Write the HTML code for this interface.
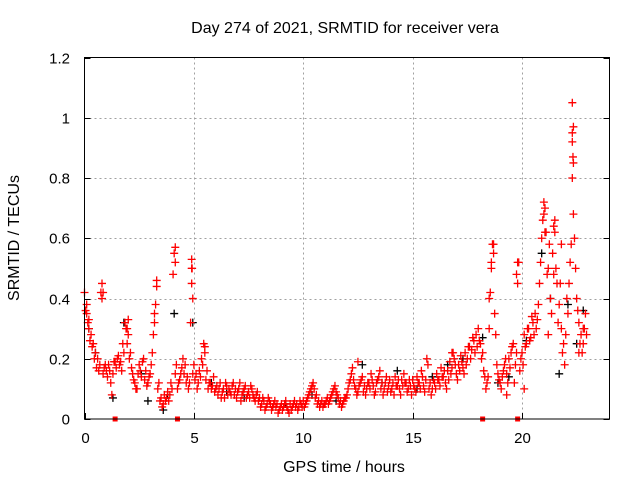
<!DOCTYPE html>
<html><head><meta charset="utf-8"><style>
html,body{margin:0;padding:0;background:#fff;}
svg{display:block;font-family:"Liberation Sans",sans-serif;}
</style></head><body>
<svg id="chart" width="640" height="480" viewBox="0 0 640 480" xmlns="http://www.w3.org/2000/svg">
<rect width="640" height="480" fill="#fff"/>
<text x="345" y="33" font-size="16" text-anchor="middle" fill="#000">Day 274 of 2021, SRMTID for receiver vera</text>
<g id="grid"></g>
<g id="ticks"></g>
<g id="points"></g>
<rect x="84.5" y="57.5" width="525" height="361.5" fill="none" stroke="#000" stroke-width="1"/>
<text x="344" y="472" font-size="16" text-anchor="middle">GPS time / hours</text>
<text transform="translate(19,238) rotate(-90)" font-size="16" text-anchor="middle">SRMTID / TECUs</text>
</svg>
<script>
const xTicks=[0,5,10,15,20];
const yTicks=[0,0.2,0.4,0.6,0.8,1,1.2];
const yTickLabels=["0","0.2","0.4","0.6","0.8","1","1.2"];
const seriesAStart=0, seriesBStart=0.05, seriesStep=0.1;
const seriesA=[0.42,0.35,0.30,0.28,0.25,0.22,0.20,0.18,0.40,0.17,
0.16,0.18,0.12,0.15,0.19,0.20,0.18,0.16,0.22,0.30,
0.28,0.22,0.15,0.12,0.10,0.18,0.14,0.20,0.16,0.12,
0.15,0.22,0.32,0.44,0.12,0.07,0.05,0.06,0.09,0.08,
0.10,0.55,0.18,0.12,0.15,0.20,0.18,0.14,0.12,0.50,
0.18,0.15,0.12,0.14,0.18,0.22,0.16,0.12,0.10,0.14,
0.10,0.08,0.12,0.09,0.07,0.11,0.10,0.08,0.12,0.10,
0.09,0.12,0.08,0.10,0.07,0.09,0.11,0.08,0.06,0.09,
0.07,0.05,0.06,0.04,0.07,0.05,0.04,0.06,0.05,0.03,
0.05,0.04,0.06,0.03,0.05,0.04,0.06,0.05,0.04,0.05,
0.06,0.05,0.07,0.09,0.11,0.10,0.08,0.06,0.05,0.04,
0.05,0.07,0.06,0.08,0.10,0.09,0.07,0.06,0.05,0.07,
0.08,0.12,0.15,0.13,0.10,0.09,0.12,0.14,0.11,0.10,
0.12,0.15,0.11,0.09,0.13,0.16,0.12,0.10,0.14,0.11,
0.09,0.12,0.14,0.11,0.10,0.13,0.15,0.12,0.10,0.11,
0.13,0.10,0.14,0.12,0.16,0.11,0.13,0.18,0.12,0.10,
0.12,0.15,0.13,0.17,0.14,0.12,0.16,0.19,0.17,0.20,
0.15,0.18,0.21,0.17,0.22,0.20,0.24,0.23,0.26,0.28,
0.30,0.25,0.22,0.14,0.12,0.30,0.50,0.55,0.28,0.15,
0.12,0.14,0.18,0.15,0.20,0.22,0.25,0.18,0.45,0.16,
0.22,0.28,0.25,0.30,0.27,0.32,0.35,0.33,0.45,0.60,
0.68,0.62,0.50,0.40,0.55,0.62,0.45,0.38,0.30,0.25,
0.28,0.35,0.52,0.95,0.60,0.40,0.32,0.28,0.25,0.35];
const seriesB=[0.36,0.32,0.26,0.24,0.20,0.17,0.16,0.42,0.15,0.18,
0.14,0.16,0.08,0.19,0.17,0.21,0.19,0.25,0.32,0.25,
0.20,0.17,0.13,0.10,0.15,0.16,0.19,0.13,0.11,0.14,
0.18,0.28,0.38,0.10,0.06,0.04,0.08,0.07,0.06,0.12,
0.48,0.15,0.10,0.13,0.17,0.15,0.12,0.10,0.32,0.15,
0.13,0.10,0.16,0.20,0.25,0.13,0.10,0.12,0.11,0.09,
0.11,0.10,0.07,0.10,0.12,0.08,0.09,0.11,0.08,0.07,
0.10,0.06,0.09,0.11,0.08,0.07,0.10,0.07,0.08,0.06,
0.04,0.07,0.03,0.05,0.06,0.03,0.05,0.04,0.02,0.04,
0.03,0.05,0.04,0.02,0.03,0.05,0.04,0.03,0.06,0.04,
0.04,0.06,0.08,0.10,0.12,0.07,0.05,0.04,0.06,0.05,
0.06,0.05,0.07,0.09,0.11,0.08,0.05,0.04,0.06,0.07,
0.10,0.13,0.17,0.11,0.08,0.11,0.13,0.09,0.08,0.12,
0.10,0.13,0.08,0.12,0.14,0.10,0.08,0.12,0.09,0.13,
0.10,0.08,0.11,0.13,0.08,0.11,0.12,0.09,0.13,0.08,
0.11,0.09,0.12,0.10,0.14,0.09,0.20,0.10,0.08,0.13,
0.10,0.13,0.11,0.14,0.16,0.10,0.13,0.15,0.22,0.18,
0.13,0.16,0.19,0.15,0.18,0.24,0.20,0.27,0.22,0.24,
0.26,0.20,0.16,0.10,0.14,0.42,0.58,0.35,0.18,0.13,
0.10,0.16,0.20,0.12,0.17,0.24,0.12,0.22,0.52,0.20,
0.18,0.24,0.30,0.26,0.34,0.28,0.30,0.38,0.52,0.66,
0.62,0.48,0.58,0.35,0.48,0.50,0.32,0.45,0.22,0.18,
0.40,0.45,0.58,0.85,0.50,0.36,0.25,0.22,0.30,0.28];
const extraTimes=[22.3,22.35,22.3,22.33,22.3,22.35,4.15,4.15,4.9,4.92,4.9,4.95,0.8,0.85,1.95,3.3,18.7,18.6,19.8,19.75,21.0,21.05,21.5,21.45,0.1,0.2,2.0,3.2,5.5,12.5,16.8,20.1,21.2,21.8,22.6,22.8,18.5,19.3];
const extraValues=[1.05,0.97,0.92,0.87,0.80,0.68,0.57,0.52,0.53,0.50,0.45,0.40,0.45,0.42,0.30,0.46,0.58,0.52,0.52,0.48,0.72,0.70,0.66,0.64,0.38,0.33,0.33,0.35,0.24,0.19,0.22,0.10,0.28,0.58,0.22,0.30,0.40,0.08];
const blackTimes=[0.2,0.5,1.3,2.6,3.6,3.8,4.1,4.95,5.8,6.5,7.3,8.6,9.2,10.4,11.5,12.7,13.6,14.3,15.2,15.9,16.6,17.3,18.2,18.9,19.4,20.2,20.9,21.3,21.7,22.1,22.5,22.8,1.8,2.9];
const blackValues=[0.30,0.22,0.07,0.15,0.03,0.08,0.35,0.32,0.12,0.09,0.07,0.04,0.05,0.08,0.06,0.18,0.12,0.16,0.10,0.14,0.18,0.20,0.27,0.12,0.14,0.26,0.55,0.40,0.15,0.38,0.25,0.36,0.32,0.06];
const gapMarkers=[1.4,4.25,18.2,19.8];

const X0=84.5,X1=609.5,Y0=419,Y1=57.5,XMAX=24,YMAX=1.2;
const xs=t=>X0+(X1-X0)*t/XMAX;
const ys=v=>Y0-(Y0-Y1)*v/YMAX;
const NS="http://www.w3.org/2000/svg";
const mk=(tag,attrs,parent)=>{const e=document.createElementNS(NS,tag);for(const k in attrs)e.setAttribute(k,attrs[k]);parent.appendChild(e);return e;};
const grid=document.getElementById('grid'),ticks=document.getElementById('ticks'),pts=document.getElementById('points');
xTicks.forEach(t=>{
  const x=Math.round(xs(t))+0.5;
  if(t>0){const g=mk('line',{x1:x,x2:x,y1:Y1,y2:Y0,stroke:'#a0a0a0','stroke-dasharray':'2,3'},grid);
  
  }
  const l=mk('line',{x1:x,x2:x,y1:Y0,y2:Y0-6,stroke:'#000'},ticks);
  
  
  const tx=mk('text',{x:x,y:443,'font-size':15,'text-anchor':'middle'},ticks);
  tx.textContent=String(t);
  
  
});
yTicks.forEach((v,i)=>{
  const y=Math.round(ys(v))+0.5;
  if(v>0&&v<YMAX){const g=mk('line',{x1:X0,x2:X1,y1:y,y2:y,stroke:'#a0a0a0','stroke-dasharray':'2,3'},grid);
  
  }
  const l=mk('line',{x1:X0,x2:X0+6,y1:y,y2:y,stroke:'#000'},ticks);
  
  
  const l2=mk('line',{x1:X1,x2:X1-6,y1:y,y2:y,stroke:'#000'},ticks);
  
  
  const tx=mk('text',{x:70,y:y+5,'font-size':15,'text-anchor':'end'},ticks);
  tx.textContent=yTickLabels[i];
  
  
});
function plus(t,v,color,name){
  const x=xs(t),y=ys(v);
  const p=mk('path',{d:`M${x-4},${y}H${x+4}M${x},${y-4}V${y+4}`,stroke:color,'stroke-width':1.3,fill:'none'},pts);
  
  
}
blackTimes.forEach((t,i)=>plus(t,blackValues[i],'#000','black-point'));
seriesA.forEach((v,i)=>plus(seriesAStart+i*seriesStep,v,'#f00','red-point'));
seriesB.forEach((v,i)=>plus(seriesBStart+i*seriesStep,v,'#f00','red-point'));
extraTimes.forEach((t,i)=>plus(t,extraValues[i],'#f00','red-point'));
gapMarkers.forEach(t=>{
  const r=mk('rect',{x:xs(t)-2.5,y:Y0-2.5,width:5,height:5,fill:'#f00'},pts);
  
  
});
</script>
</body></html>
